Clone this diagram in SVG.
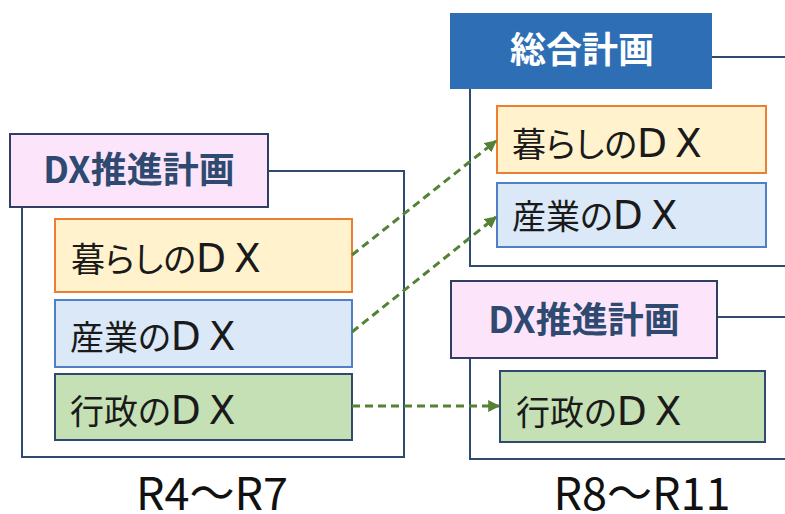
<svg xmlns="http://www.w3.org/2000/svg" width="785" height="514" viewBox="0 0 785 514">
<defs>
<marker id="ah" viewBox="0 0 10 10" refX="9" refY="5" markerWidth="4" markerHeight="4" orient="auto" markerUnits="strokeWidth">
<path d="M0,0 L10,5 L0,10 z" fill="#548235"/>
</marker>
<style>
.frame{fill:none;stroke:#2F4A70;stroke-width:2}
.hdr{fill:#FCE4FA;stroke:#2F3E62;stroke-width:2}
.hdrtxt{font-family:"Noto Sans CJK JP","Noto Sans",sans-serif;font-weight:bold;font-size:36px;fill:#2E4A70;text-anchor:middle}
.sogo{fill:#2E6EB5;stroke:#2E6EB5;stroke-width:2}
.sogotxt{font-family:"Noto Sans CJK JP","Noto Sans",sans-serif;font-weight:bold;font-size:36px;fill:#FFFFFF;text-anchor:middle}
.kurashi{fill:#FFF2CC;stroke:#ED7D31;stroke-width:2}
.sangyo{fill:#DAE8F7;stroke:#4F7FC4;stroke-width:2}
.gyosei{fill:#C5E0B4;stroke:#2F4A70;stroke-width:2}
.btxt{font-family:"Noto Sans CJK JP","Noto Sans",sans-serif;font-size:34px;fill:#1A1A1A}
.p{font-feature-settings:"palt"}
.dx{font-family:"DejaVu Sans","Noto Sans",sans-serif;font-size:39px;letter-spacing:8px}
.lbl{font-family:"Noto Sans CJK JP","Noto Sans",sans-serif;font-size:45px;fill:#111111;text-anchor:middle}
.conn{fill:none;stroke:#548235;stroke-width:3;stroke-dasharray:8,5;marker-end:url(#ah)}
</style>
</defs>
<rect width="785" height="514" fill="#FFFFFF"/>

<g id="left-dx-plan">
<rect class="frame" x="22" y="171" width="382" height="286"/>
<rect class="hdr" x="10" y="134" width="258" height="73"/>
<text class="hdrtxt" x="139" y="183">DX推進計画</text>
</g>
<g id="left-kurashi">
<rect class="kurashi" x="55" y="219" width="297" height="73"/>
<text class="btxt" x="71" y="272"><tspan class="p">暮らしの</tspan><tspan class="dx">DX</tspan></text>
</g>
<g id="left-sangyo">
<rect class="sangyo" x="55" y="300" width="297" height="67"/>
<text class="btxt" x="70" y="350"><tspan class="p">産業の</tspan><tspan class="dx">DX</tspan></text>
</g>
<g id="left-gyosei">
<rect class="gyosei" x="55" y="374" width="297" height="66"/>
<text class="btxt" x="70" y="424"><tspan class="p">行政の</tspan><tspan class="dx">DX</tspan></text>
</g>

<g id="right-sogo-plan">
<path class="frame" d="M800,57 H711 M470,88 V266 H800"/>
<rect class="sogo" x="451" y="14" width="260" height="74"/>
<text class="sogotxt" x="582" y="63">総合計画</text>
</g>
<g id="right-kurashi">
<rect class="kurashi" x="497" y="106" width="269" height="67"/>
<text class="btxt" x="512" y="157"><tspan class="p">暮らしの</tspan><tspan class="dx">DX</tspan></text>
</g>
<g id="right-sangyo">
<rect class="sangyo" x="497" y="183" width="269" height="64"/>
<text class="btxt" x="512" y="229"><tspan class="p">産業の</tspan><tspan class="dx">DX</tspan></text>
</g>

<g id="right-dx-plan">
<path class="frame" d="M800,317 H717 M470,358 V459 H800"/>
<rect class="hdr" x="451" y="281" width="266" height="77"/>
<text class="hdrtxt" x="584" y="333">DX推進計画</text>
</g>
<g id="right-gyosei">
<rect class="gyosei" x="500" y="371" width="265" height="71"/>
<text class="btxt" x="516" y="425"><tspan class="p">行政の</tspan><tspan class="dx">DX</tspan></text>
</g>

<g id="connectors">
<line class="conn" x1="352" y1="255" x2="496" y2="141"/>
<line class="conn" x1="352" y1="332" x2="496" y2="217"/>
<line class="conn" x1="352" y1="406" x2="499" y2="406"/>
</g>

<g id="labels">
<text class="lbl" x="212" y="510">R4～R7</text>
<text class="lbl" x="642" y="510">R8～R11</text>
</g>
</svg>
